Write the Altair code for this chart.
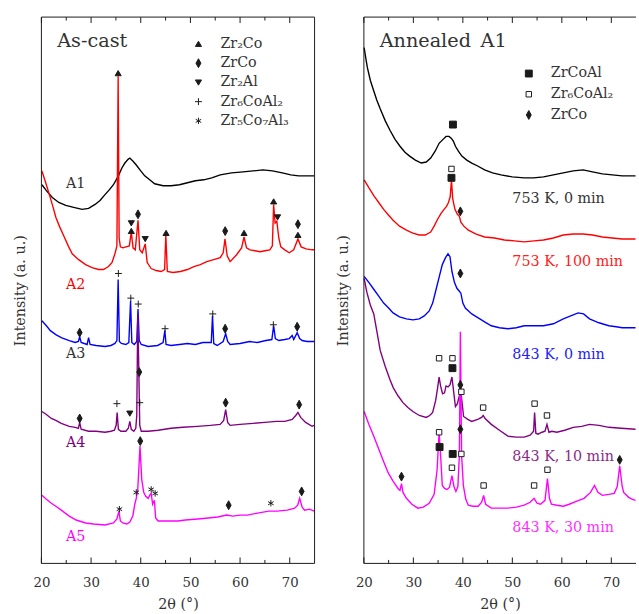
import altair as alt
import pandas as pd

SERIF = "DejaVu Serif"
INK = "#1a1a1a"
TXT = "#333333"

# ---------------- As-cast panel (2theta, intensity a.u.) ----------------
A1 = [(20.1, 384), (21.0, 378), (22.2, 371), (23.5, 366), (24.9, 363), (26.5, 361), (28.2, 359), (29.5, 360),
      (30.8, 364), (31.8, 368), (32.8, 374), (33.7, 379), (34.5, 384), (35.5, 393), (36.2, 401), (36.8, 406),
      (37.5, 410), (37.8, 411), (38.4, 408), (39.1, 404), (40.0, 398), (40.8, 393), (41.8, 389), (42.8, 385),
      (44.5, 383), (46.1, 383), (47.8, 384), (49.4, 386), (51.0, 388), (52.7, 389), (54.3, 391), (56.0, 394),
      (58.3, 396), (60.6, 397), (62.6, 398), (64.6, 399), (66.5, 398), (68.5, 396), (70.2, 394), (71.8, 393),
      (73.2, 393), (74.9, 393)]
A2 = [(20.1, 398), (20.8, 387), (21.6, 374), (22.3, 362), (22.9, 351), (23.7, 341), (24.6, 331), (25.4, 322),
      (26.2, 314), (27.5, 308), (28.9, 303), (30.2, 300), (31.5, 298), (32.5, 298), (33.5, 301), (34.2, 305),
      (34.8, 314), (35.2, 322), (35.45, 494), (35.65, 330), (35.9, 321), (36.4, 320), (37.0, 321), (37.7, 322),
      (38.1, 336), (38.45, 320), (38.9, 318), (39.45, 348), (39.8, 318), (40.3, 315), (40.9, 324), (41.3, 305),
      (42.1, 299), (43.1, 297), (44.1, 296), (44.8, 298), (45.05, 333), (45.35, 296), (46.5, 295), (48.0, 296),
      (49.4, 298), (50.7, 301), (52.0, 303), (53.3, 306), (54.7, 308), (56.0, 310), (56.6, 315), (56.97, 329),
      (57.4, 312), (58.0, 306), (59.3, 313), (60.3, 320), (60.8, 331), (61.3, 320), (62.0, 318), (63.0, 317),
      (64.0, 316), (65.0, 317), (66.0, 318), (66.5, 322), (66.76, 364), (67.05, 345), (67.4, 347), (67.8, 330),
      (68.2, 321), (69.0, 318), (69.9, 315), (70.8, 318), (71.65, 329), (72.3, 321), (73.3, 319), (74.5, 318),
      (74.9, 318)]
A3 = [(20.1, 246), (21.0, 241), (21.8, 236), (22.9, 232), (24.0, 229), (25.6, 226), (26.8, 224), (27.45, 225),
      (27.7, 230), (28.0, 224), (29.2, 222), (29.5, 229), (29.8, 222), (31.0, 221), (32.8, 220), (34.0, 221),
      (34.8, 223), (35.2, 226), (35.45, 288), (35.7, 225), (36.1, 223), (37.0, 222), (37.6, 224), (37.95, 266),
      (38.2, 224), (38.7, 222), (39.2, 225), (39.45, 258), (39.7, 226), (40.1, 222), (41.5, 220), (43.4, 221),
      (44.5, 224), (44.85, 236), (45.1, 222), (46.1, 221), (47.8, 222), (49.4, 223), (51.0, 222), (52.5, 224),
      (54.2, 224), (54.45, 251), (54.7, 223), (55.4, 221), (56.6, 225), (57.1, 233), (57.5, 225), (58.0, 222),
      (60.0, 223), (61.9, 225), (63.5, 224), (65.2, 226), (66.4, 227), (66.76, 241), (67.1, 228), (67.8, 226),
      (69.0, 227), (69.9, 228), (70.5, 231), (70.8, 227), (71.5, 234), (72.0, 228), (72.5, 226), (73.5, 225),
      (74.9, 225)]
A4 = [(20.1, 154), (21.0, 151), (22.0, 147), (22.9, 145), (24.0, 142), (25.6, 139), (26.8, 138), (27.45, 137),
      (27.7, 143), (28.0, 136), (29.5, 134), (31.0, 134), (32.8, 133), (34.0, 134), (34.7, 135), (35.05, 140),
      (35.25, 153), (35.5, 136), (36.0, 134), (37.0, 134), (37.5, 137), (37.8, 144), (38.1, 136), (38.6, 134),
      (39.0, 137), (39.2, 150), (39.4, 253), (39.6, 200), (39.8, 140), (40.1, 134), (41.5, 134), (43.5, 135),
      (46.1, 137), (48.5, 138), (51.4, 139), (54.0, 140), (56.0, 141), (56.7, 145), (57.1, 156), (57.5, 143),
      (58.0, 140), (60.0, 141), (62.6, 142), (65.0, 143), (67.3, 144), (69.0, 144), (70.5, 146), (71.2, 150),
      (71.65, 153), (72.2, 148), (73.2, 143), (74.5, 139), (74.9, 140)]
A5 = [(20.1, 69), (21.0, 65), (22.0, 61), (22.9, 58), (24.0, 54), (25.6, 48), (27.0, 44), (28.9, 41),
      (30.5, 40), (32.8, 39), (34.5, 41), (35.2, 45), (35.6, 53), (35.9, 43), (36.4, 41), (37.2, 40),
      (37.8, 42), (38.4, 48), (38.8, 60), (39.1, 66), (39.4, 75), (39.85, 119), (40.2, 85), (40.6, 72),
      (41.0, 68), (41.5, 66), (41.9, 70), (42.1, 71), (42.4, 60), (42.75, 64), (43.0, 46), (43.5, 43),
      (45.7, 43), (47.5, 43), (49.0, 44), (51.5, 45), (53.6, 46), (55.5, 47), (57.3, 49), (58.5, 48),
      (60.0, 49), (61.5, 49), (63.5, 51), (65.8, 53), (67.5, 53), (69.5, 54), (71.0, 56), (71.6, 59),
      (72.0, 66), (72.5, 57), (73.0, 54), (74.0, 55), (74.9, 53)]

LEFT_SERIES = ["A1", "A2", "A3", "A4", "A5"]
LEFT_DATA = [A1, A2, A3, A4, A5]

LEFT_PHASES = ["Zr₂Co", "ZrCo", "Zr₂Al", "Zr₆CoAl₂", "Zr₅Co₇Al₃"]
LEFT_MARKS = [
    ("Zr₂Co", 35.45, 497),
    ("Zr₂Al", 38.1, 345), ("Zr₂Co", 38.1, 337), ("ZrCo", 39.45, 354), ("Zr₂Al", 40.9, 329),
    ("Zr₂Co", 45.1, 335), ("ZrCo", 57.0, 337), ("Zr₂Co", 60.8, 335), ("Zr₂Co", 66.76, 367),
    ("Zr₂Al", 67.55, 351), ("ZrCo", 71.65, 344), ("Zr₂Co", 71.65, 333),
    ("Zr₆CoAl₂", 35.5, 294), ("ZrCo", 27.7, 234), ("Zr₆CoAl₂", 38.0, 269), ("Zr₆CoAl₂", 39.5, 263),
    ("Zr₆CoAl₂", 44.9, 238), ("Zr₆CoAl₂", 54.5, 253), ("ZrCo", 57.0, 238), ("Zr₆CoAl₂", 66.7, 242),
    ("ZrCo", 71.5, 240),
    ("ZrCo", 27.7, 147), ("Zr₆CoAl₂", 35.2, 162), ("Zr₂Al", 37.8, 152), ("Zr₆CoAl₂", 39.8, 163),
    ("ZrCo", 39.7, 194), ("ZrCo", 57.1, 163), ("ZrCo", 71.9, 161),
    ("ZrCo", 39.9, 124), ("Zr₅Co₇Al₃", 35.7, 55), ("Zr₅Co₇Al₃", 39.1, 72), ("Zr₅Co₇Al₃", 42.1, 75),
    ("Zr₅Co₇Al₃", 42.9, 71), ("ZrCo", 57.7, 59), ("Zr₅Co₇Al₃", 66.2, 61), ("ZrCo", 72.4, 73),
]
LEFT_LABELS = [("A1", 26.9, 385), ("A2", 26.9, 282), ("A3", 26.9, 212), ("A4", 26.9, 122), ("A5", 26.9, 27)]

# ---------------- Annealed A1 panel ----------------
R1 = [(20.05, 523), (20.4, 512), (20.7, 503), (21.3, 490), (22.0, 479), (22.6, 470), (23.3, 461), (24.3, 449),
      (25.3, 439), (26.3, 430), (27.3, 423), (28.3, 417), (29.25, 413), (30.4, 409), (31.6, 406), (32.6, 407),
      (33.5, 411), (34.4, 418), (35.2, 426), (36.0, 430), (36.6, 433), (37.2, 433), (37.7, 431), (38.1, 428),
      (38.5, 423), (39.1, 418), (39.8, 413), (40.8, 409), (41.8, 406), (43.0, 403), (44.4, 399), (46.0, 396),
      (47.7, 394), (50.0, 392), (52.4, 391), (54.3, 391), (56.3, 392), (58.3, 394), (60.3, 396), (62.3, 398),
      (64.3, 399), (66.2, 397), (68.2, 395), (70.2, 394), (72.2, 393), (74.9, 393)]
R2 = [(20.05, 389), (21.0, 381), (22.0, 373), (23.0, 366), (24.0, 359), (25.0, 353), (25.9, 348), (27.2, 342),
      (28.6, 338), (29.9, 335), (31.2, 333), (32.4, 333), (33.5, 336), (34.2, 342), (34.9, 349), (35.6, 355),
      (36.2, 359), (36.7, 362), (37.1, 366), (37.45, 372), (37.7, 389), (37.95, 370), (38.4, 359), (38.9, 354),
      (39.3, 352), (39.6, 346), (40.2, 342), (41.1, 338), (42.7, 334), (44.4, 331), (46.4, 330), (48.4, 328),
      (50.4, 327), (52.4, 326), (54.4, 327), (56.3, 328), (58.3, 330), (60.3, 333), (62.3, 334), (64.3, 334),
      (66.2, 333), (68.2, 331), (70.2, 330), (72.2, 329), (74.9, 329)]
R3 = [(20.05, 291), (21.0, 285), (22.0, 278), (23.0, 271), (24.0, 264), (25.0, 259), (25.9, 254), (27.2, 250),
      (28.6, 248), (29.9, 247), (31.2, 248), (32.2, 251), (33.2, 256), (33.9, 264), (34.5, 276), (35.2, 290),
      (35.85, 303), (36.5, 310), (37.0, 314), (37.4, 311), (37.8, 296), (38.3, 285), (38.8, 279), (39.3, 276),
      (39.6, 274), (40.0, 264), (40.5, 259), (41.8, 253), (43.1, 249), (44.4, 245), (45.75, 241), (47.4, 239),
      (49.1, 238), (50.8, 239), (52.4, 241), (54.4, 241), (56.3, 241), (58.3, 243), (60.3, 248), (61.8, 251),
      (63.3, 254), (64.4, 253), (65.6, 248), (67.5, 244), (69.5, 241), (71.0, 240), (72.2, 239), (74.9, 239)]
R4 = [(20.05, 289), (20.6, 275), (21.3, 262), (22.0, 253), (22.6, 236), (23.3, 216), (24.3, 200), (25.3, 186),
      (25.95, 178), (26.9, 170), (27.9, 163), (28.9, 158), (29.9, 154), (31.2, 150), (32.6, 148), (33.3, 150),
      (33.9, 153), (34.5, 165), (34.9, 178), (35.2, 189), (35.5, 180), (35.9, 172), (36.3, 173), (36.6, 180),
      (37.0, 179), (37.4, 181), (37.8, 189), (38.1, 176), (38.5, 159), (38.9, 162), (39.3, 170), (39.55, 176),
      (39.8, 165), (40.15, 149), (41.0, 146), (41.8, 144), (43.0, 146), (43.8, 148), (44.1, 150), (44.5, 147),
      (45.75, 141), (47.4, 135), (49.1, 129), (50.8, 128), (52.4, 128), (53.6, 130), (54.3, 134), (54.5, 153),
      (54.75, 132), (55.2, 131), (56.0, 133), (56.6, 134), (57.0, 141), (57.4, 133), (58.0, 134), (59.0, 133),
      (60.6, 135), (62.3, 138), (64.0, 139), (65.6, 141), (67.5, 140), (69.5, 138), (72.0, 137), (74.9, 136)]
R5 = [(20.05, 154), (21.0, 141), (22.0, 129), (23.0, 116), (24.0, 103), (24.9, 92), (25.95, 83), (26.9, 76),
      (27.3, 74), (27.6, 81), (27.9, 72), (28.6, 66), (29.7, 60), (30.9, 56), (32.0, 57), (33.2, 61),
      (34.2, 70), (34.8, 95), (35.2, 133), (35.5, 110), (35.85, 79), (36.3, 76), (36.8, 75), (37.3, 77),
      (37.8, 89), (38.2, 78), (38.6, 73), (39.0, 78), (39.3, 110), (39.5, 235), (39.75, 110), (40.1, 79),
      (40.6, 65), (41.1, 59), (42.0, 58), (43.1, 58), (43.8, 62), (44.2, 69), (44.6, 60), (45.75, 56),
      (47.4, 56), (49.1, 56), (50.8, 57), (52.4, 59), (53.6, 62), (54.4, 66), (55.0, 61), (55.7, 60),
      (56.6, 64), (57.1, 86), (57.5, 66), (57.9, 60), (59.0, 59), (60.3, 58), (61.5, 60), (62.9, 63),
      (64.5, 66), (65.8, 72), (66.6, 79), (67.3, 72), (68.2, 69), (69.5, 70), (70.6, 71), (71.2, 78),
      (71.7, 99), (72.2, 78), (72.5, 72), (73.5, 67), (74.3, 65), (74.9, 64)]

RIGHT_SERIES = ["753 K, 0 min", "753 K, 100 min", "843 K, 0 min", "843 K, 10 min", "843 K, 30 min"]
RIGHT_DATA = [R1, R2, R3, R4, R5]

RIGHT_PHASES = ["ZrCoAl", "Zr₆CoAl₂", "ZrCo"]
RIGHT_MARKS = [
    ("ZrCoAl", 38.0, 445),
    ("Zr₆CoAl₂", 37.7, 400), ("ZrCoAl", 37.7, 391), ("ZrCo", 39.5, 357),
    ("ZrCo", 39.5, 294),
    ("Zr₆CoAl₂", 35.2, 208), ("Zr₆CoAl₂", 37.9, 208), ("ZrCoAl", 37.9, 198), ("ZrCo", 39.5, 181),
    ("Zr₆CoAl₂", 39.7, 174), ("Zr₆CoAl₂", 44.1, 158), ("Zr₆CoAl₂", 54.5, 162), ("Zr₆CoAl₂", 57.0, 150),
    ("ZrCo", 27.6, 88), ("Zr₆CoAl₂", 35.2, 133), ("ZrCoAl", 35.3, 118), ("ZrCoAl", 37.95, 111),
    ("Zr₆CoAl₂", 37.8, 97), ("ZrCo", 39.5, 136), ("Zr₆CoAl₂", 39.7, 111), ("Zr₆CoAl₂", 44.2, 79),
    ("Zr₆CoAl₂", 54.4, 79), ("Zr₆CoAl₂", 57.1, 95), ("ZrCo", 71.7, 105),
]
RIGHT_LABELS = [("753 K, 0 min", 50.0, 369), ("753 K, 100 min", 50.0, 306), ("843 K, 0 min", 50.0, 211),
                ("843 K, 10 min", 50.0, 108), ("843 K, 30 min", 50.0, 36)]

MAJOR_TICKS = [20, 30, 40, 50, 60, 70]
MINOR_TICKS = [25, 35, 45, 55, 65]

# ---------------- styles ----------------
LINE_COLORS = ["#000000", "#ff0000", "#0000ff", "#800080", "#ff00ff"]
LEFT_LABEL_COLORS = ["#333333", "#ff0000", "#333333", "#800080", "#ff00ff"]
RIGHT_LABEL_COLORS = ["#333333", "#ff2020", "#2020ff", "#8a2a8a", "#ff30ff"]

TRI_UP = "M0,-0.55L0.62,0.5L-0.62,0.5Z"
TRI_DN = "M0,0.55L0.62,-0.5L-0.62,-0.5Z"
DIAM = "M0,-0.9L0.5,0L0,0.9L-0.5,0Z"
PLUS = "M-0.7,0L0.7,0M0,-0.7L0,0.7"
STAR = "M0,-0.65L0,0.65M-0.56,-0.33L0.56,0.33M-0.56,0.33L0.56,-0.33"
SQ_BIG = "M-0.7,-0.7L0.7,-0.7L0.7,0.7L-0.7,0.7Z"
SQ_SMALL = "M-0.55,-0.55L0.55,-0.55L0.55,0.55L-0.55,0.55Z"

LEFT_SHAPES = [TRI_UP, DIAM, TRI_DN, PLUS, STAR]
LEFT_FILLS = [INK, INK, INK, INK, INK]
RIGHT_SHAPES = [SQ_BIG, SQ_SMALL, DIAM]
RIGHT_FILLS = [INK, "#ffffff", INK]

H = 554
FS = 14.5

XAXIS = alt.Axis(values=MAJOR_TICKS, title="2θ (°)", labelFont=SERIF, labelFontSize=13.5, labelColor=TXT,
                 titleFont=SERIF, titleFontSize=14.5, titleFontWeight="normal", titleColor=TXT,
                 domain=False, ticks=False, grid=False, labelPadding=12, titlePadding=9, labelFlush=False)
YAXIS = alt.Axis(title="Intensity (a. u.)", labels=False, ticks=False, domain=False, grid=False,
                 titleFont=SERIF, titleFontSize=14.5, titleFontWeight="normal", titleColor=TXT, titlePadding=14)


def lines_frame(names, datasets, colors):
    rows = []
    for name, pts, col in zip(names, datasets, colors):
        for x, y in pts:
            rows.append({"series": name, "x": x, "y": y, "col": col})
    return pd.DataFrame(rows)


def panel(W, names, datasets, label_list, label_colors, marks, phases, shapes, fills, leg_xy, row_pad,
          title, right_border):
    xs = alt.Scale(domain=[20, 75], nice=False, zero=False)
    ys = alt.Scale(domain=[0, H], nice=False, zero=False)
    X = alt.X("x:Q", scale=xs, axis=XAXIS)
    Y = alt.Y("y:Q", scale=ys, axis=YAXIS)

    ldf = lines_frame(names, datasets, LINE_COLORS)
    lines = alt.Chart(ldf).mark_line(strokeWidth=1.4, interpolate="linear").encode(
        x=X, y=Y, color=alt.Color("col:N", scale=None), detail="series:N")

    mdf = pd.DataFrame(marks, columns=["phase", "x", "y"])
    leg = alt.Legend(title=None, orient="none", legendX=leg_xy[0], legendY=leg_xy[1], direction="vertical",
                     labelFont=SERIF, labelFontSize=FS, labelColor=TXT, labelOffset=15, labelLimit=300,
                     symbolSize=100, symbolStrokeColor=INK, symbolStrokeWidth=1, symbolOpacity=1,
                     rowPadding=row_pad, padding=0)
    points = alt.Chart(mdf).mark_point(filled=True, size=100, strokeWidth=1, opacity=1).encode(
        x=X, y=Y,
        shape=alt.Shape("phase:N", scale=alt.Scale(domain=phases, range=shapes), legend=leg),
        fill=alt.Fill("phase:N", scale=alt.Scale(domain=phases, range=fills), legend=leg),
        stroke=alt.Stroke("phase:N", scale=alt.Scale(domain=phases, range=[INK] * len(phases)), legend=leg))

    tdf = pd.DataFrame(label_list, columns=["label", "x", "y"])
    tdf["col"] = label_colors
    align = "center" if right_border else "left"
    labels = alt.Chart(tdf).mark_text(font=SERIF, fontSize=FS, align=align, baseline="middle").encode(
        x=X, y=Y, text="label:N", color=alt.Color("col:N", scale=None))

    one = pd.DataFrame({"t": [title]})
    ttl = alt.Chart(one).mark_text(font=SERIF, fontSize=19.5, align="left", baseline="middle", color=TXT).encode(
        text="t:N", x=alt.value(16), y=alt.value(24))

    maj = pd.DataFrame({"x": MAJOR_TICKS})
    mino = pd.DataFrame({"x": MINOR_TICKS})
    tick_layers = []
    for df, ln in ((maj, 6), (mino, 3.5)):
        tick_layers.append(alt.Chart(df).mark_rule(color=INK, strokeWidth=1).encode(
            x=X, y=alt.value(H), y2=alt.value(H - ln)))
        tick_layers.append(alt.Chart(df).mark_rule(color=INK, strokeWidth=1).encode(
            x=X, y=alt.value(0), y2=alt.value(ln)))

    border = [
        alt.Chart(one).mark_rule(color=INK, strokeWidth=1).encode(x=alt.value(0), y=alt.value(0), y2=alt.value(H)),
        alt.Chart(one).mark_rule(color=INK, strokeWidth=1).encode(x=alt.value(0), x2=alt.value(W), y=alt.value(0)),
        alt.Chart(one).mark_rule(color=INK, strokeWidth=1).encode(x=alt.value(0), x2=alt.value(W), y=alt.value(H)),
    ]
    if right_border:
        border.append(alt.Chart(one).mark_rule(color=INK, strokeWidth=1).encode(
            x=alt.value(W), y=alt.value(0), y2=alt.value(H)))

    return alt.layer(lines, points, labels, ttl, *tick_layers, *border).properties(width=W, height=H)


left = panel(277, LEFT_SERIES, LEFT_DATA, LEFT_LABELS, LEFT_LABEL_COLORS, LEFT_MARKS, LEFT_PHASES,
             LEFT_SHAPES, LEFT_FILLS, (152, 20), 4.5, "As-cast", True)
right = panel(276, RIGHT_SERIES, RIGHT_DATA, RIGHT_LABELS, RIGHT_LABEL_COLORS, RIGHT_MARKS, RIGHT_PHASES,
              RIGHT_SHAPES, RIGHT_FILLS, (160, 50), 6, "Annealed\u2002A1", False)

chart = alt.hconcat(left, right, spacing=18).resolve_scale(
    shape="independent", fill="independent", stroke="independent").properties(
    padding={"left": 13, "top": 12, "right": 0, "bottom": 0}, background="white").configure_view(stroke=None)

chart.save("out.html", embed_options={"renderer": "svg", "actions": False})
